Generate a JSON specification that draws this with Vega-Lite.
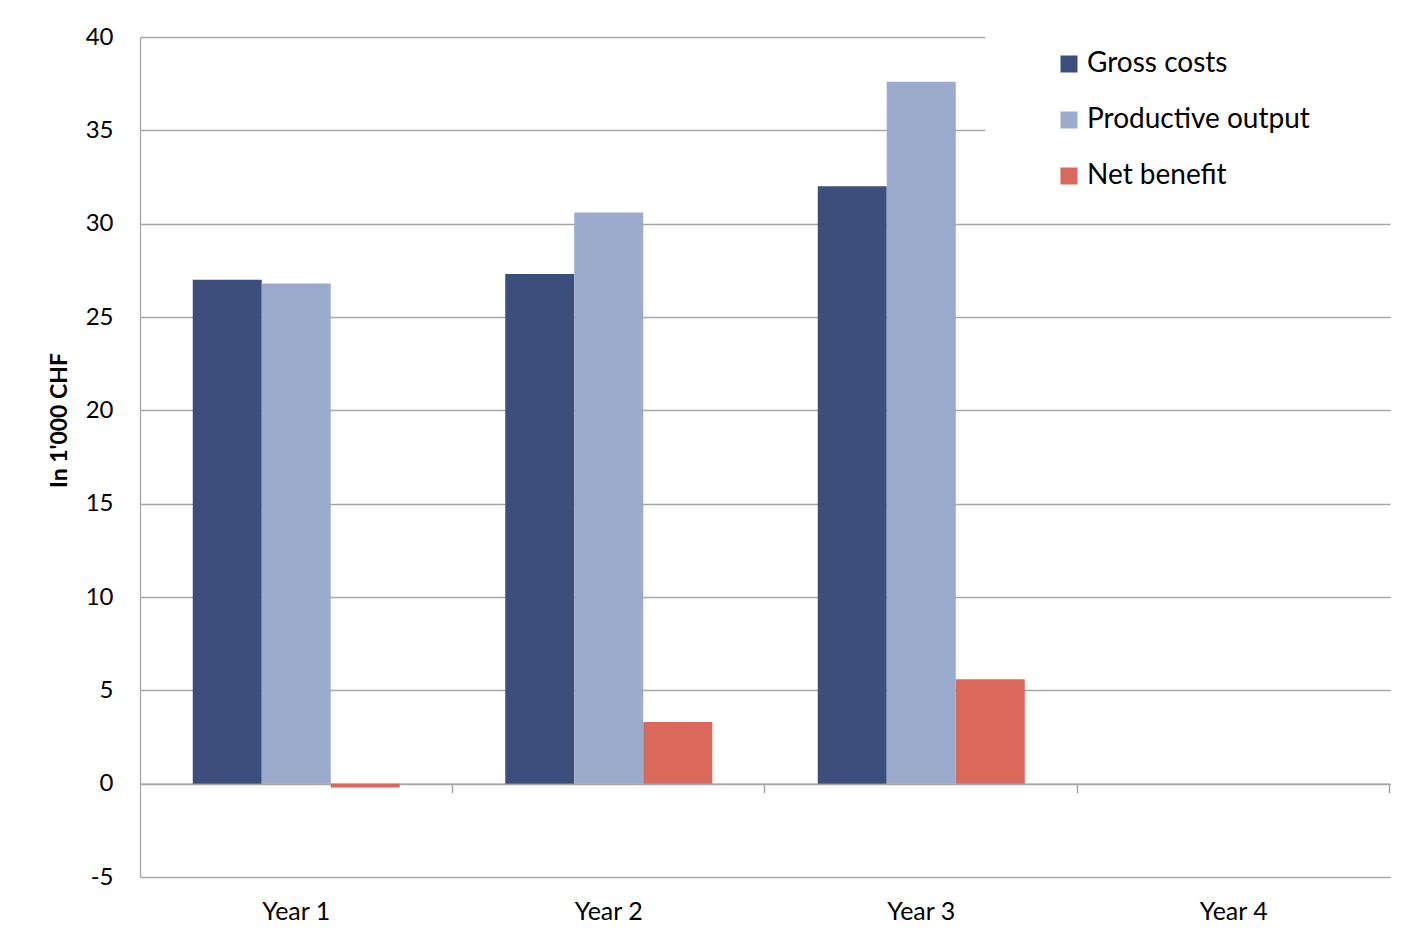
{
  "$schema": "https://vega.github.io/schema/vega-lite/v6.json",
  "autosize": {"type": "none"},
  "width": 1250,
  "height": 840,
  "padding": {"left": 140, "top": 37, "right": 11, "bottom": 65},
  "background": "white",
  "config": {
    "font": "Lato",
    "view": {"stroke": null}
  },
  "data": {
    "values": [
      {"year": "Year 1", "series": "Gross costs", "value": 27.0},
      {"year": "Year 1", "series": "Productive output", "value": 26.8},
      {"year": "Year 1", "series": "Net benefit", "value": -0.2},
      {"year": "Year 2", "series": "Gross costs", "value": 27.3},
      {"year": "Year 2", "series": "Productive output", "value": 30.6},
      {"year": "Year 2", "series": "Net benefit", "value": 3.3},
      {"year": "Year 3", "series": "Gross costs", "value": 32.0},
      {"year": "Year 3", "series": "Productive output", "value": 37.6},
      {"year": "Year 3", "series": "Net benefit", "value": 5.6}
    ]
  },
  "layer": [
    {
      "mark": {"type": "bar"},
      "encoding": {
        "x": {
          "field": "year",
          "type": "nominal",
          "scale": {"domain": ["Year 1", "Year 2", "Year 3", "Year 4"], "paddingInner": 0.3376, "paddingOuter": 0.1688},
          "axis": {
            "orient": "bottom",
            "title": null,
            "domain": false,
            "ticks": false,
            "grid": false,
            "labelAngle": 0,
            "labelFontSize": 25,
            "labelColor": "#000000",
            "labelPadding": 22
          }
        },
        "xOffset": {
          "field": "series",
          "type": "nominal",
          "sort": ["Gross costs", "Productive output", "Net benefit"],
          "scale": {"paddingInner": 0, "paddingOuter": 0}
        },
        "y": {
          "field": "value",
          "type": "quantitative",
          "scale": {"domain": [-5, 40], "nice": false, "zero": false},
          "axis": {
            "title": "In 1'000 CHF",
            "titleFontSize": 23,
            "titleFontWeight": "bold",
            "titleColor": "#000000",
            "titlePadding": 14,
            "titleY": 383,
            "values": [-5, 0, 5, 10, 15, 20, 25, 30, 35, 40],
            "labelExpr": "replace(datum.label, '\u2212', '-')",
            "grid": true,
            "gridColor": "#A6A6A6",
            "gridWidth": 1.3,
            "domain": true,
            "domainColor": "#A6A6A6",
            "domainWidth": 1.3,
            "ticks": false,
            "labelFontSize": 24,
            "labelColor": "#000000",
            "labelPadding": 27
          }
        },
        "color": {
          "field": "series",
          "type": "nominal",
          "sort": ["Gross costs", "Productive output", "Net benefit"],
          "scale": {
            "domain": ["Gross costs", "Productive output", "Net benefit"],
            "range": ["#3C4F7C", "#9AABCE", "#DA695B"]
          },
          "legend": {
            "title": "\u00a0",
            "titleOrient": "right",
            "titlePadding": 66,
            "titleFontSize": 10,
            "orient": "none",
            "legendX": 845,
            "legendY": -3,
            "direction": "vertical",
            "fillColor": "white",
            "padding": 16,
            "symbolOffset": 54,
            "symbolType": "square",
            "symbolSize": 289,
            "symbolStrokeWidth": 0,
            "labelFontSize": 28,
            "labelColor": "#000000",
            "labelOffset": 4,
            "rowPadding": 28,
            "labelLimit": 400
          }
        }
      }
    },
    {
      "mark": {"type": "point", "opacity": 0},
      "encoding": {
        "x": {
          "field": "year",
          "type": "nominal",
          "axis": {
            "orient": "bottom",
            "title": null,
            "offset": -93.33,
            "labels": false,
            "grid": false,
            "domain": true,
            "domainColor": "#A6A6A6",
            "domainWidth": 1.5,
            "ticks": true,
            "bandPosition": 1.2548,
            "tickColor": "#A6A6A6",
            "tickWidth": 1.5,
            "tickSize": 9
          }
        },
        "y": {"datum": 0, "type": "quantitative"}
      }
    }
  ],
  "resolve": {"axis": {"x": "independent"}}
}
